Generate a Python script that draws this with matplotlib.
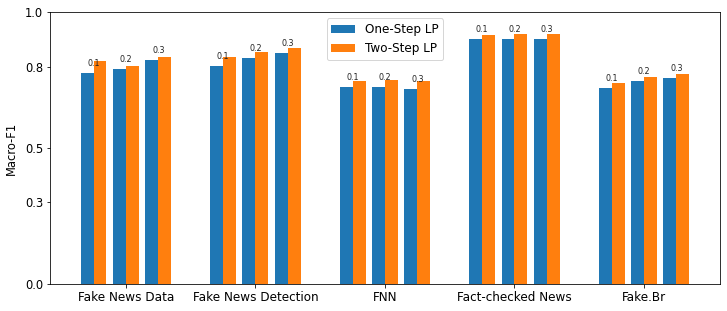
import numpy as np
import matplotlib
matplotlib.use("Agg")
import matplotlib.pyplot as plt

datasets = ['Fake News Data', 'Fake News Detection', 'FNN', 'Fact-checked News', 'Fake.Br']
ratios = ['0.1', '0.2', '0.3']

# rows: datasets, cols: ratio 0.1 / 0.2 / 0.3
one_step = [[0.777, 0.791, 0.825],
            [0.802, 0.832, 0.850],
            [0.725, 0.725, 0.718],
            [0.902, 0.902, 0.902],
            [0.721, 0.747, 0.758]]
two_step = [[0.821, 0.802, 0.836],
            [0.836, 0.854, 0.869],
            [0.747, 0.751, 0.747],
            [0.918, 0.921, 0.921],
            [0.740, 0.762, 0.773]]

one_step = np.array(one_step)
two_step = np.array(two_step)

fig = plt.figure(figsize=(727 / 72, 311 / 72), dpi=72)
ax = fig.add_axes([0.069, 0.087, 0.921, 0.873])

x = np.arange(len(datasets))
width = 0.1
offsets = [-0.25, 0, 0.25]

for j, off in enumerate(offsets):
    ax.bar(x + off - width / 2, one_step[:, j], width, color='#1f77b4',
           label='One-Step LP' if j == 0 else None)
    ax.bar(x + off + width / 2, two_step[:, j], width, color='#ff7f0e',
           label='Two-Step LP' if j == 0 else None)
    for i in range(len(datasets)):
        ax.text(x[i] + off, one_step[i, j] + 0.026, ratios[j],
                ha='center', va='baseline', fontsize=8, color='#222222')

ax.set_ylim(0, 1.0)
ax.set_yticks([0.0, 0.3, 0.5, 0.8, 1.0])
ax.set_yticklabels(['0.0', '0.3', '0.5', '0.8', '1.0'], fontsize=11.5)
ax.set_xticks(x)
ax.set_xticklabels(datasets, fontsize=12)
ax.set_ylabel('Macro-F1', fontsize=11.5, labelpad=7)
ax.legend(loc='upper center', fontsize=12)

fig.savefig('out.png', dpi=72)
